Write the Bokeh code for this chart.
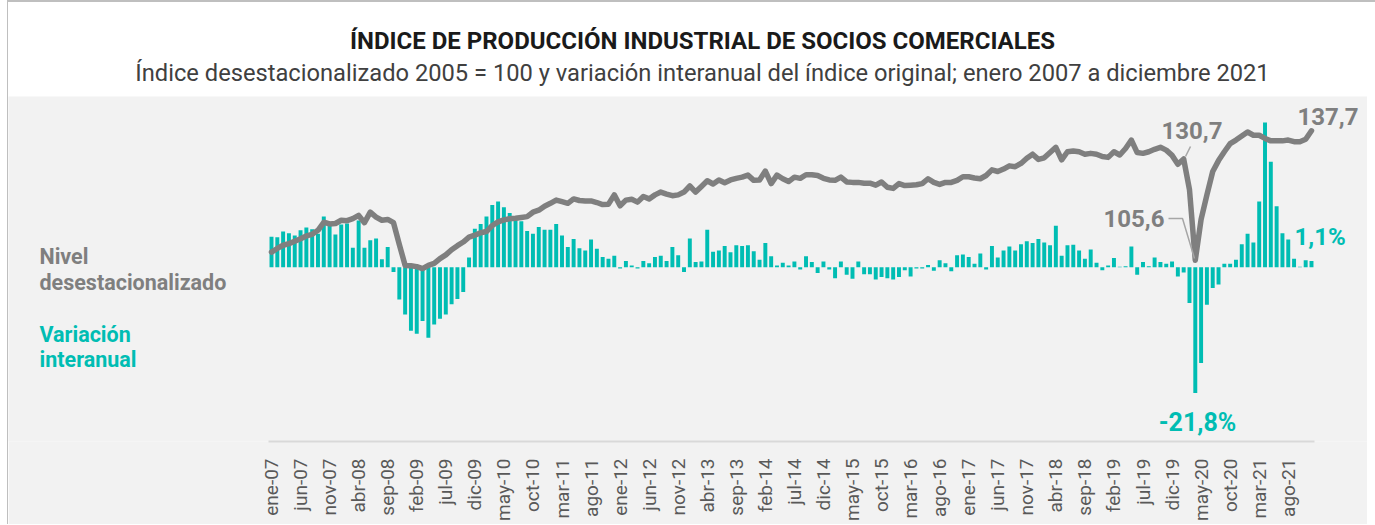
import math
from bokeh.plotting import figure
from bokeh.models import Range1d, LinearAxis, FixedTicker, Label, Div
from bokeh.layouts import column
from bokeh.embed import file_html
from bokeh.resources import INLINE

# ---------------- data ----------------
tick_labels = ["ene-07", "jun-07", "nov-07", "abr-08", "sep-08", "feb-09", "jul-09", "dic-09",
               "may-10", "oct-10", "mar-11", "ago-11", "ene-12", "jun-12", "nov-12", "abr-13",
               "sep-13", "feb-14", "jul-14", "dic-14", "may-15", "oct-15", "mar-16", "ago-16",
               "ene-17", "jun-17", "nov-17", "abr-18", "sep-18", "feb-19", "jul-19", "dic-19",
               "may-20", "oct-20", "mar-21", "ago-21"]

# Nivel desestacionalizado (2005 = 100), ene-2007 .. dic-2021
nivel = [
    107.6, 108.5, 109.3, 109.7, 110.3, 110.9, 111.6, 112.0, 113.0, 115.0, 114.6, 114.7,  # 2007
    115.5, 115.4, 115.9, 116.7, 114.9, 117.5, 116.3, 115.5, 115.7, 114.9, 109.5, 104.3,  # 2008
    104.2, 104.0, 103.5, 104.3, 104.8, 106.0, 106.9, 108.2, 109.2, 110.1, 111.3, 111.8,  # 2009
    112.4, 112.7, 114.2, 115.1, 115.6, 115.9, 116.0, 116.2, 116.4, 117.5, 118.0, 119.0,  # 2010
    119.7, 120.5, 120.1, 119.7, 120.8, 120.4, 120.3, 120.3, 119.9, 119.4, 119.5, 121.8,  # 2011
    119.1, 120.5, 120.7, 120.0, 121.4, 120.8, 121.8, 122.5, 122.0, 121.6, 121.8, 122.5,  # 2012
    124.0, 122.5, 123.9, 125.3, 124.5, 125.5, 124.8, 125.5, 125.9, 126.2, 126.7, 125.4,  # 2013
    125.5, 127.7, 124.6, 126.7, 125.8, 125.1, 126.2, 125.9, 126.8, 126.8, 126.6, 125.9,  # 2014
    125.5, 125.4, 126.2, 125.0, 124.9, 124.9, 124.7, 124.7, 124.2, 125.0, 123.7, 123.4,  # 2015
    124.6, 124.1, 124.2, 124.3, 124.6, 125.8, 124.9, 124.4, 124.9, 124.9, 125.4, 126.3,  # 2016
    126.3, 126.0, 125.8, 126.6, 128.0, 127.6, 128.2, 129.0, 128.8, 129.6, 130.9, 131.9,  # 2017
    130.6, 131.0, 132.3, 133.6, 130.5, 132.5, 132.7, 132.5, 131.9, 132.1, 131.9, 131.3,  # 2018
    131.1, 132.5, 131.7, 133.3, 135.4, 132.3, 132.1, 132.5, 133.1, 133.6, 132.9, 131.6,  # 2019
    129.4, 130.7, 123.1, 105.6, 115.7, 121.8, 127.6, 130.3, 132.5, 134.5, 135.4, 136.4,  # 2020
    137.4, 136.6, 136.6, 135.8, 135.2, 135.2, 135.2, 135.4, 135.0, 135.0, 135.6, 137.7,  # 2021
]

# Variación interanual del índice original (%)
variacion = [
    5.3, 5.2, 6.2, 5.9, 5.5, 6.4, 6.9, 6.6, 5.8, 8.8, 7.3, 5.7,            # 2007
    7.4, 7.6, 3.4, 8.1, 3.4, 4.7, 5.0, 1.4, 3.5, -0.8, -5.6, -8.2,         # 2008
    -11.0, -11.5, -9.3, -12.2, -9.9, -8.9, -8.2, -6.4, -5.5, -4.3, 1.7, 6.7,  # 2009
    7.5, 8.8, 10.8, 11.4, 10.4, 9.4, 8.5, 8.0, 6.3, 5.8, 7.0, 6.5,         # 2010
    6.5, 7.5, 5.5, 3.5, 4.9, 3.3, 2.9, 4.8, 3.2, 1.8, 1.5, 2.0,            # 2011
    -0.2, 1.1, 0.3, -0.2, 1.1, 0.7, 1.8, 2.0, 1.1, 3.5, 2.1, -0.8,         # 2012
    5.0, 0.9, 1.0, 6.5, 2.7, 2.9, 3.7, 2.6, 3.8, 3.7, 3.8, 2.8,            # 2013
    1.3, 4.2, 1.9, 0.3, 0.8, 0.3, 1.0, -0.4, 1.9, 0.9, -1.0, 1.0,          # 2014
    -0.4, -1.9, 1.0, -1.3, -2.0, 1.0, -1.2, -1.2, -2.1, -1.7, -1.9, -2.1,  # 2015
    -1.7, -0.5, -1.6, -0.2, -0.2, 0.4, -0.6, 1.2, 0.7, -0.7, 2.1, 2.2,     # 2016
    1.8, 0.6, 2.4, -0.4, 3.7, 1.7, 2.9, 3.6, 2.9, 4.0, 4.5, 4.2,           # 2017
    4.9, 4.3, 3.8, 7.2, 2.0, 3.8, 3.9, 2.9, 1.5, 3.1, 0.8, -0.5,           # 2018
    0.3, 1.6, 0.1, 0.2, 3.6, -1.3, 0.9, 0.2, 1.7, 0.9, 0.6, 1.0,           # 2019
    -1.6, -0.9, -6.2, -21.8, -16.6, -6.5, -3.6, -3.0, 0.6, 0.6, 1.3, 4.0,  # 2020
    5.8, 4.3, 11.4, 25.1, 18.3, 10.6, 5.9, 4.8, 1.5, 0.1, 1.2, 1.1,        # 2021
]

meses = list(range(len(nivel)))

GRIS = "#7f7f7f"
TEAL = "#00bdb3"
FONDO = "#f2f2f2"
FONT = "Roboto"

# ---------------- figure ----------------
W, H = 1359, 428
LEFT = 9
p = figure(width=W, height=H,
           x_range=Range1d((LEFT - 272) / 5.81, (LEFT + W - 272) / 5.81),
           y_range=Range1d(60.60, 146.21),
           output_backend="svg", toolbar_location=None,
           x_axis_location=None, y_axis_location=None,
           min_border_left=0, min_border_right=0, min_border_top=0, min_border_bottom=83,
           background_fill_color=FONDO, border_fill_color=FONDO, outline_line_color=None)
p.grid.visible = False
p.extra_y_ranges = {"pct": Range1d(-30.19, 29.60), "px": Range1d(442, 97)}
p.extra_x_ranges = {"pxx": Range1d(LEFT, LEFT + W)}

xaxis = LinearAxis(ticker=FixedTicker(ticks=list(range(0, 180, 5))),
                   major_label_overrides={i * 5: lab for i, lab in enumerate(tick_labels)},
                   bounds=(-0.5, 179.5))
xaxis.major_label_orientation = math.pi / 2
xaxis.major_label_text_font = FONT
xaxis.major_label_text_font_size = "19px"
xaxis.major_label_text_color = "#595959"
xaxis.major_label_standoff = 11
xaxis.axis_line_color = "#d9d9d9"
xaxis.axis_line_width = 2
xaxis.major_tick_line_color = None
xaxis.minor_tick_line_color = None
p.add_layout(xaxis, "below")

# bars and line
p.vbar(x=meses, top=variacion, bottom=0, width=0.68, y_range_name="pct",
       fill_color=TEAL, line_color=None)
p.line(x=meses, y=nivel, line_width=5.5, line_color=GRIS, line_join="round", line_cap="round")

# leader lines (page pixel coordinates)
p.line(x=[1191, 1186], y=[147, 157], x_range_name="pxx", y_range_name="px",
       line_color="#a6a6a6", line_width=1.5)
p.line(x=[1169, 1183, 1195], y=[219, 219, 259], x_range_name="pxx", y_range_name="px",
       line_color="#a6a6a6", line_width=1.5)

def lab(x, y, text, color, size="24px", align="left", bold=True):
    p.add_layout(Label(x=x, y=y, x_range_name="pxx", y_range_name="px", text=text,
                       text_font=FONT, text_font_style="bold" if bold else "normal",
                       text_font_size=size, text_color=color,
                       text_align=align, text_baseline="middle"))

lab(1162, 131, "130,7", GRIS)
lab(1104, 219, "105,6", GRIS)
lab(1298, 117, "137,7", GRIS)
lab(1295, 237, "1,1%", TEAL)
lab(1198, 423, "-21,8%", TEAL, size="25px", align="center")

lab(40, 257, "Nivel", GRIS, size="21.5px")
lab(40, 283, "desestacionalizado", GRIS, size="21.5px")
lab(40, 335, "Variación", TEAL, size="21.5px")
lab(40, 360, "interanual", TEAL, size="21.5px")

titulo = ("<div style=\"font-family:Roboto;text-align:center;width:1359px;box-sizing:border-box;"
          "padding-left:20px;\">"
          "<div style=\"font-weight:bold;font-size:24px;color:#1a1a1a;line-height:28px;padding-top:20px;\">"
          "ÍNDICE DE PRODUCCIÓN INDUSTRIAL DE SOCIOS COMERCIALES</div>"
          "<div style=\"font-size:23.7px;color:#404040;line-height:28px;margin-top:4px;\">"
          "Índice desestacionalizado 2005 = 100 y variación interanual del índice original; "
          "enero 2007 a diciembre 2021</div></div>")
div = Div(text=titulo, width=W, height=84, styles={"background-color": "white"})

layout = column(div, p, spacing=0, margin=(0, 0, -8, 7),
                styles={"border-top": "2px solid #bfbfbf", "border-left": "1px solid #bfbfbf",
                        "border-right": "1px solid #bfbfbf"})

open("out.html", "w").write(file_html(layout, INLINE))
